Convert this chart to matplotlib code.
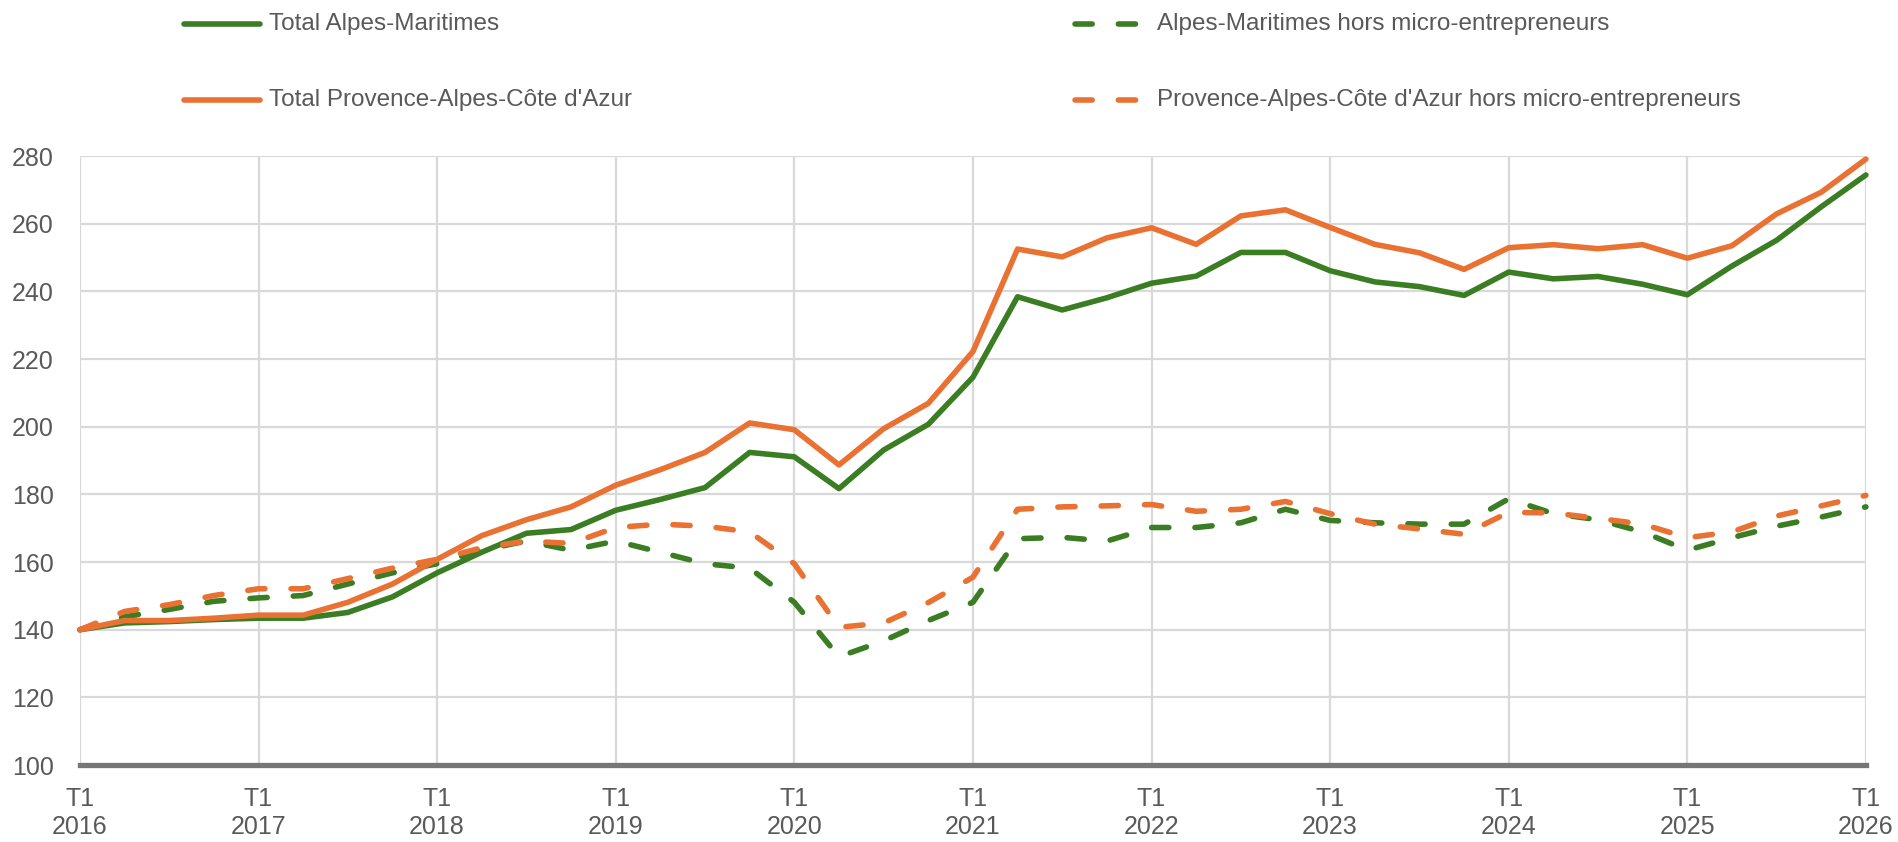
import matplotlib
matplotlib.use("Agg")
import matplotlib.pyplot as plt
from matplotlib.lines import Line2D
from matplotlib import font_manager

# ---- data -------------------------------------------------------------
quarters = [f"{y}T{q}" for y in range(2016, 2026) for q in range(1, 5)] + ["2026T1"]
tick_labels = ["T1\n2016", "T1\n2017", "T1\n2018", "T1\n2019", "T1\n2020",
               "T1\n2021", "T1\n2022", "T1\n2023", "T1\n2024", "T1\n2025", "T1\n2026"]
y_ticks = [100, 120, 140, 160, 180, 200, 220, 240, 260, 280]

total_am = [140, 142, 142.4, 143, 143.4, 143.4, 145.1, 149.7, 156.8, 162.9, 168.5, 169.6,
            175.3, 178.5, 182, 192.4, 191.1, 181.7, 193.1, 200.7, 214.6, 238.4, 234.5, 238.1,
            242.4, 244.5, 251.5, 251.5, 246.1, 242.8, 241.4, 238.8, 245.7, 243.7, 244.4, 242.1,
            239, 247.5, 255.1, 265, 274.4]
am_hors = [140, 143.8, 146, 148.4, 149.4, 150.1, 153.5, 156.8, 159.5, 163.5, 166.2, 163.5,
           166.2, 162.9, 159.5, 158.2, 148.1, 132, 136.7, 142.7, 148.1, 166.9, 167.3, 166.2,
           170.2, 170.2, 171.6, 175.6, 172.3, 171.6, 171.2, 171.2, 178.7, 174.3, 172.5, 168.9,
           163.5, 167.2, 170.6, 173.3, 176.3]
total_paca = [140, 142.7, 142.7, 143.4, 144.3, 144.3, 148.1, 153.5, 160.8, 167.8, 172.5, 176.3,
              182.7, 187.3, 192.4, 201.1, 199.1, 188.7, 199.4, 206.9, 222.2, 252.5, 250.2, 255.8,
              258.8, 253.9, 262.3, 264.1, 258.9, 253.9, 251.4, 246.5, 252.9, 253.8, 252.6, 253.8,
              249.8, 253.5, 262.9, 269.3, 279.1]
paca_hors = [140, 145.4, 147.4, 150.1, 152.1, 152.1, 155.1, 158.2, 160.8, 164.2, 166.2, 165.5,
             170.2, 171.2, 170.6, 168.9, 159.5, 140.7, 142, 148, 155.5, 175.6, 176.3, 176.6,
             177, 175, 175.6, 177.9, 174.3, 171.2, 169.8, 168.2, 174.7, 174.5, 172.9, 171.2,
             167.2, 168.9, 173.6, 176.6, 179.7]

labels = ["Total Alpes-Maritimes", "Alpes-Maritimes hors micro-entrepreneurs",
          "Total Provence-Alpes-Côte d'Azur", "Provence-Alpes-Côte d'Azur hors micro-entrepreneurs"]

# ---- style ------------------------------------------------------------
GREEN = "#3A7D22"
ORANGE = "#E97132"
TXT = "#595959"
GRID = "#D9D9D9"

def has_font(name):
    try:
        font_manager.findfont(name, fallback_to_default=False)
        return True
    except Exception:
        return False

tick_font = "Liberation Sans"
legend_font = "Liberation Sans Narrow" if has_font("Liberation Sans Narrow") else "Liberation Sans"

plt.rcParams["font.family"] = [tick_font, "DejaVu Sans"]

fig = plt.figure(figsize=(18.98, 8.42), dpi=100)
ax = fig.add_axes([0.0421, 0.0914, 0.9410, 0.7233])

x = list(range(len(quarters)))
lw = 4.0
dash = (0, (3.1, 4.7))
series = [
    (total_am, GREEN, "-"),
    (am_hors, GREEN, dash),
    (total_paca, ORANGE, "-"),
    (paca_hors, ORANGE, dash),
]
for vals, col, ls in series:
    ax.plot(x, vals, color=col, lw=lw, linestyle=ls, solid_capstyle="round",
            dash_capstyle="round", solid_joinstyle="round", clip_on=False, zorder=3)

ax.set_xlim(0, 40)
ax.set_ylim(100, 280)
ax.set_xticks(list(range(0, 41, 4)))
ax.set_xticklabels(tick_labels)
ax.set_yticks(y_ticks)
ax.grid(True, color=GRID, lw=1.6, zorder=0)
ax.set_axisbelow(True)
for s in ["top", "right", "left"]:
    ax.spines[s].set_visible(False)
ax.spines["bottom"].set_color("#767676")
ax.spines["bottom"].set_linewidth(3.8)
ax.spines["bottom"].set_zorder(4)
ax.tick_params(axis="both", length=0, labelsize=18, labelcolor=TXT)
ax.tick_params(axis="x", pad=16)
ax.tick_params(axis="y", pad=19)
for t in ax.get_xticklabels():
    t.set_linespacing(1.2)

# ---- legend (manual placement, 2 columns x 2 rows) -------------------
rows_y = [1 - 24 / 842, 1 - 100 / 842]
cols = [(184, 260, 269), (1075, 1144, 1157)]
entries = [
    (0, 0, GREEN, "-", labels[0]),
    (0, 1, GREEN, dash, labels[1]),
    (1, 0, ORANGE, "-", labels[2]),
    (1, 1, ORANGE, dash, labels[3]),
]
W = 1898
for r, c, col, ls, lab in entries:
    x0, x1, xt = cols[c]
    yy = rows_y[r]
    if ls == "-":
        ln = Line2D([x0 / W, x1 / W], [yy, yy], transform=fig.transFigure, color=col,
                    lw=lw, solid_capstyle="round")
    else:
        ln = Line2D([x0 / W, x1 / W], [yy, yy], transform=fig.transFigure, color=col,
                    lw=lw, linestyle=dash, dash_capstyle="round")
    fig.add_artist(ln)
    fig.text(xt / W, yy, lab, ha="left", va="center", fontsize=17.5, color=TXT,
             family=[legend_font, "DejaVu Sans"])

fig.savefig("out.png", dpi=100)
